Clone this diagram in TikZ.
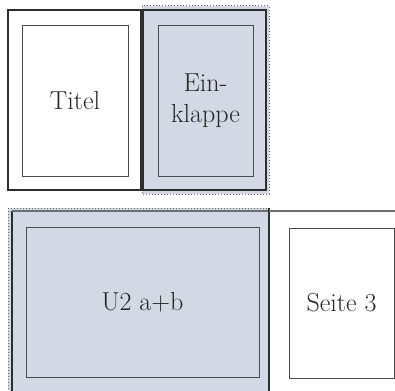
\documentclass[tikz,border=0pt]{standalone}
\definecolor{lav}{HTML}{D3D8E5}
\definecolor{frame}{HTML}{2E2E2E}
\definecolor{inner}{HTML}{4A4A4A}
\definecolor{dotc}{HTML}{6A6A6A}
\tikzset{
  page/.style={draw=frame, line width=1.1pt},
  innerbox/.style={draw=inner, line width=0.9pt},
  fold/.style={draw=dotc, line width=1pt, dotted},
  lbl/.style={font=\fontsize{26}{31}\selectfont, text=black!85, align=center, inner sep=0pt}
}
\begin{document}
\begin{tikzpicture}[x=1pt,y=-1pt]
\useasboundingbox (0,0) rectangle (395,390);
\begin{scope}
\clip (0,0) rectangle (395,390);
% ---- top: Titel + Einklappe
\fill[lav] (142,6) rectangle (269,194);
\draw[fold] (142,6) rectangle (269,194);
\draw[page] (8,10) rectangle (141,190);
\draw[page] (143,10) rectangle (266,190);
\node[innerbox, minimum width=106pt, minimum height=151pt, inner sep=0pt] (titel) at (75,100.5) {};
\node[lbl] at (titel.center) {Titel};
\node[innerbox, minimum width=95pt, minimum height=151pt, inner sep=0pt] (ein) at (205.5,100.5) {};
\node[lbl] at (ein.center) {Ein-\\klappe};
% ---- bottom: U2 a+b + Seite 3
\fill[lav] (8,208) rectangle (269,400);
\draw[fold] (8,208) -- (269,208);
\draw[fold] (8,208) -- (8,400);
\draw[page] (12,211) -- (12,400);
\draw[page, draw=frame!70] (12,211) -- (269,211);
\draw[page] (269,208) -- (269,400);
\draw[page, draw=frame!70] (269,211) -- (400,211);
\node[innerbox, minimum width=233pt, minimum height=150pt, inner sep=0pt] (u2) at (142.5,302) {};
\node[lbl] at (u2.center) {U2 a+b};
\node[innerbox, minimum width=105pt, minimum height=150pt, inner sep=0pt] (s3) at (341.5,303) {};
\node[lbl] at (s3.center) {Seite 3};
\end{scope}
\end{tikzpicture}
\end{document}
